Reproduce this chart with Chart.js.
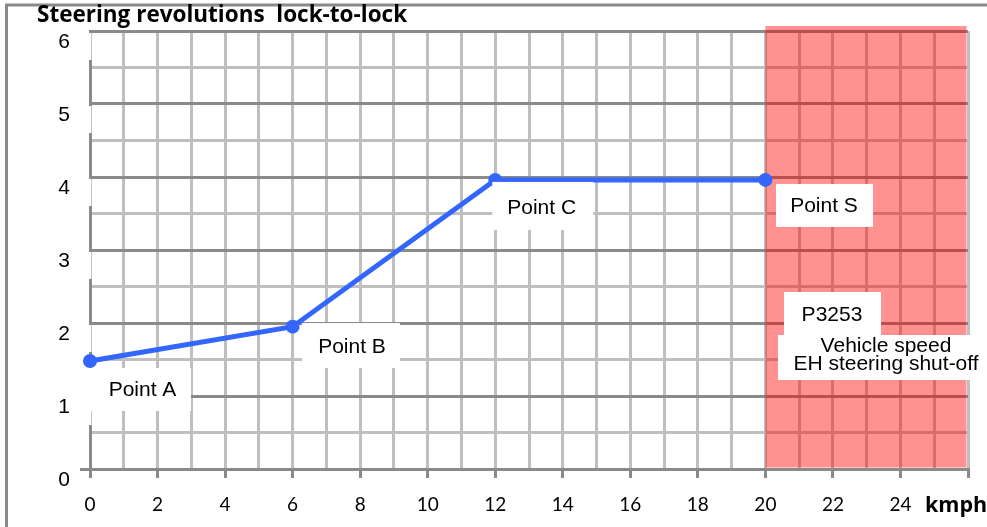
<!DOCTYPE html>
<html>
<head>
<meta charset="utf-8">
<title>Steering revolutions lock-to-lock</title>
<script src="https://cdn.jsdelivr.net/npm/chart.js@4.4.0/dist/chart.umd.min.js"></script>
<style>
  html, body { margin: 0; padding: 0; background: #fff; }
  #wrap { width: 987px; height: 527px; }
</style>
</head>
<body>
<div id="wrap"><canvas id="steerChart" width="987" height="527"></canvas></div>
<script>
/* ── Chart data ───────────────────────────────────────────────────── */
const speedKmph   = [0, 6, 12, 20];
const revolutions = [1.48, 1.95, 3.96, 3.96];
const pointNames  = ['Point A', 'Point B', 'Point C', 'Point S'];
const xTickLabels = [0, 2, 4, 6, 8, 10, 12, 14, 16, 18, 20, 22, 24];
const yTickLabels = [0, 1, 2, 3, 4, 5, 6];
const shutoffZone = [20, 26];
const shutoffCode = 'P3253';
const shutoffText = ['Vehicle speed', 'EH steering shut-off'];
const chartTitle  = 'Steering revolutions  lock-to-lock';
const xUnit       = 'kmph';

const DARK = '#8a8a8a';
const LIGHT = '#bfbfbf';
const LABEL_FONT = '21px "Liberation Sans", Arial, sans-serif';

document.addEventListener('DOMContentLoaded', function () {

    /* ── outer frame, title and unit label ─────────────────────────── */
    const frameAndTitle = {
        id: 'frameAndTitle',
        beforeDraw(chart) {
            const c = chart.ctx;
            c.save();
            c.strokeStyle = DARK;
            c.lineWidth = 3;
            c.beginPath();
            c.moveTo(6.5, chart.height);
            c.lineTo(6.5, 5);
            c.lineTo(chart.width, 5);
            c.stroke();
            c.restore();
        },
        afterDraw(chart) {
            const c = chart.ctx;
            c.save();
            c.fillStyle = '#000';
            c.textBaseline = 'alphabetic';
            c.textAlign = 'left';
            c.font = 'bold 22.5px "Open Sans", sans-serif';
            c.fillText(chartTitle, 37, 22);
            c.font = 'bold 21.5px "Open Sans", sans-serif';
            c.fillText(xUnit, 925, 512);
            c.restore();
        }
    };

    /* ── red shut-off zone + breaks in the y axis line ─────────────── */
    const shutoffPlugin = {
        id: 'shutoff',
        beforeDatasetsDraw(chart) {
            const c = chart.ctx, xs = chart.scales.x, ys = chart.scales.y;
            const left = xs.getPixelForValue(shutoffZone[0]);
            const right = xs.getPixelForValue(shutoffZone[1]) - 1.5;
            const top = ys.getPixelForValue(6) - 5;
            const bottom = ys.getPixelForValue(0) - 1.5;
            c.save();
            c.fillStyle = 'rgba(255,0,0,0.43)';
            c.fillRect(left, top, right - left, bottom - top);
            // the y tick labels sit on white boxes that cut the axis line
            c.fillStyle = '#fff';
            const ax = xs.getPixelForValue(0);
            yTickLabels.forEach(v => {
                if (v === 0) return;
                const y = ys.getPixelForValue(v);
                c.fillRect(ax - 3, y + 2, 4.5, 27);
            });
            c.restore();
        }
    };

    /* ── boxed text labels ─────────────────────────────────────────── */
    // box [dx, dy, w, h] and text [dx, dy] relative to each point
    const pointLabelLayout = [
        { box: [-2, 7, 103, 43],  text: [52.5, 35] },
        { box: [9.4, -3.6, 98, 45], text: [59.4, 26.4] },
        { box: [-3, 2, 101, 48],  text: [46.4, 34] },
        { box: [10.6, 4, 97, 43], text: [58.6, 32] }
    ];
    const labelPlugin = {
        id: 'boxedLabels',
        afterDatasetsDraw(chart) {
            const c = chart.ctx, xs = chart.scales.x, ys = chart.scales.y;
            c.save();
            c.font = LABEL_FONT;
            c.textAlign = 'center';
            c.textBaseline = 'alphabetic';
            pointNames.forEach((name, i) => {
                const px = xs.getPixelForValue(speedKmph[i]);
                const py = ys.getPixelForValue(revolutions[i]);
                const l = pointLabelLayout[i];
                c.fillStyle = '#fff';
                c.fillRect(px + l.box[0], py + l.box[1], l.box[2], l.box[3]);
                c.fillStyle = '#000';
                c.fillText(name, px + l.text[0], py + l.text[1]);
            });
            // fault code + description inside the red zone
            const zx = xs.getPixelForValue(shutoffZone[0]);
            const zy = ys.getPixelForValue(2);
            c.fillStyle = '#fff';
            c.fillRect(zx + 18.6, zy - 31, 97, 44);
            c.fillRect(zx + 12.6, zy + 12, 202, 45);
            c.fillStyle = '#000';
            c.fillText(shutoffCode, zx + 66.6, zy - 2);
            c.fillText(shutoffText[0], zx + 120.6, zy + 29);
            c.fillText(shutoffText[1], zx + 120.6, zy + 47);
            c.restore();
        }
    };

    const ctx = document.getElementById('steerChart');
    new Chart(ctx.getContext('2d'), {
        type: 'line',
        data: {
            datasets: [{
                data: speedKmph.map((x, i) => ({ x: x, y: revolutions[i] })),
                borderColor: '#3366ff',
                backgroundColor: '#3366ff',
                borderWidth: 5,
                pointRadius: 7,
                pointBorderWidth: 0,
                pointBackgroundColor: '#3366ff',
                tension: 0,
                clip: false
            }]
        },
        options: {
            responsive: false,
            animation: false,
            devicePixelRatio: 1,
            layout: { padding: { top: 31, right: 19, left: 0, bottom: 0 } },
            plugins: {
                legend: { display: false },
                tooltip: { enabled: false },
                title: { display: false }
            },
            scales: {
                x: {
                    type: 'linear',
                    min: 0,
                    max: 26,
                    afterFit: s => { s.height = 58; },
                    ticks: {
                        stepSize: 1,
                        autoSkip: false,
                        maxRotation: 0,
                        padding: 15,
                        color: '#000',
                        font: { family: 'Lato', size: 19 },
                        callback: v => xTickLabels.includes(v) ? String(v) : ''
                    },
                    grid: {
                        color: LIGHT,
                        lineWidth: 3,
                        tickLength: 9,
                        tickWidth: 3,
                        tickColor: c => (c.tick && c.tick.value % 2 === 0) ? DARK : 'rgba(0,0,0,0)'
                    },
                    border: { color: DARK, width: 3 }
                },
                y: {
                    min: 0,
                    max: 6,
                    afterFit: s => { s.width = 90; },
                    ticks: {
                        stepSize: 0.5,
                        autoSkip: false,
                        padding: 10,
                        labelOffset: 11,
                        color: '#000',
                        font: { family: '"Liberation Sans", Arial', size: 21 },
                        callback: v => yTickLabels.includes(v) ? String(v) : ''
                    },
                    grid: {
                        color: c => (c.tick && Number.isInteger(c.tick.value)) ? DARK : LIGHT,
                        lineWidth: 3,
                        tickLength: 10,
                        tickWidth: 3,
                        tickColor: c => (c.tick && c.tick.value === 0) ? DARK : 'rgba(0,0,0,0)'
                    },
                    border: { color: DARK, width: 3 }
                }
            }
        },
        plugins: [frameAndTitle, shutoffPlugin, labelPlugin]
    });
});
</script>
</body>
</html>
